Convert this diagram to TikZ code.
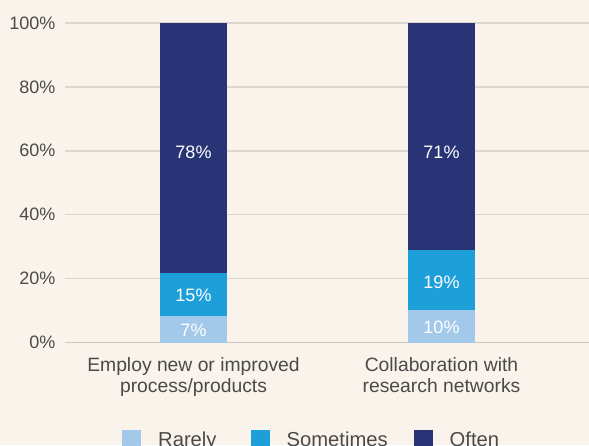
\documentclass[tikz,border=0pt]{standalone}
\usepackage{fontspec}
\setmainfont{Liberation Sans}
\definecolor{chartbg}{HTML}{FAF3EC}
\definecolor{gridgray}{HTML}{DDD7CF}
\definecolor{basegray}{HTML}{CDC6BE}
\definecolor{textgray}{HTML}{4A4A4A}
\definecolor{rarelyblue}{HTML}{A2C8EA}
\definecolor{sometimesblue}{HTML}{1D9FDA}
\definecolor{oftenblue}{HTML}{283476}
\tikzset{
	ticklabel/.style={anchor=east, inner sep=0pt, text=textgray, font=\fontsize{18}{20}\selectfont},
	barlabel/.style={anchor=base, inner sep=0pt, text=white, font=\fontsize{18}{20}\selectfont},
	catlabel/.style={anchor=base, inner sep=0pt, text=textgray, font=\fontsize{19.3}{21}\selectfont},
	legendlabel/.style={anchor=base west, inner sep=0pt, text=textgray, font=\fontsize{20.2}{22}\selectfont},
	gridline/.style={line width=1.5pt, color=gridgray}
}

\begin{document}
\begin{tikzpicture}[x=1pt, y=1pt]
		%%%%% START %%%%%
		
		\clip (0, 0) rectangle (589, 445);
		\fill[chartbg] (0, 0) rectangle (589, 445);
		
		\begin{scope}[yshift=102.5pt, y=3.195pt]
		
		\draw[gridline] (65, 100) -- (589, 100);
		\draw[gridline] (65, 80) -- (589, 80);
		\draw[gridline] (65, 60) -- (589, 60);
		\draw[gridline] (65, 40) -- (589, 40);
		\draw[gridline] (65, 20) -- (589, 20);
		\draw[gridline, color=basegray] (65, 0) -- (589, 0);
		
		\node[ticklabel] (tick100) at (55.5, 100) {100\%};
		\node[ticklabel] (tick80) at (55.5, 80) {80\%};
		\node[ticklabel] (tick60) at (55.5, 60) {60\%};
		\node[ticklabel] (tick40) at (55.5, 40) {40\%};
		\node[ticklabel] (tick20) at (55.5, 20) {20\%};
		\node[ticklabel] (tick0) at (55.5, 0) {0\%};
		
		\fill[rarelyblue] (160, 0) rectangle (227, 8.3);
		\fill[sometimesblue] (160, 8.3) rectangle (227, 21.8);
		\fill[oftenblue] (160, 21.8) rectangle (227, 100);
		
		\fill[rarelyblue] (408, 0) rectangle (475, 10.2);
		\fill[sometimesblue] (408, 10.2) rectangle (475, 29);
		\fill[oftenblue] (408, 29) rectangle (475, 100);
		
		\node[barlabel] (rarelyemploy) at (193.5, 2.0) {7\%};
		\node[barlabel] (sometimesemploy) at (193.5, 12.8) {15\%};
		\node[barlabel] (oftenemploy) at (193.5, 57.7) {78\%};
		
		\node[barlabel] (rarelycollab) at (441.5, 2.9) {10\%};
		\node[barlabel] (sometimescollab) at (441.5, 17.0) {19\%};
		\node[barlabel] (oftencollab) at (441.5, 57.7) {71\%};
		
		\end{scope}
		
		\node[catlabel] (employa) at (193.5, 73.3) {Employ new or improved};
		\node[catlabel] (employb) at (193.5, 52.3) {process/products};
		\node[catlabel] (collaba) at (441.5, 73.3) {Collaboration with};
		\node[catlabel] (collabb) at (441.5, 52.3) {research networks};
		
		\fill[rarelyblue] (122, -3) rectangle (141, 15);
		\node[legendlabel] (rarely) at (158, -1) {Rarely};
		\fill[sometimesblue] (251, -3) rectangle (270, 15);
		\node[legendlabel] (sometimes) at (286.5, -1) {Sometimes};
		\fill[oftenblue] (414, -3) rectangle (433, 15);
		\node[legendlabel] (often) at (449.5, -1) {Often};
		
		%%%%% END %%%%%
\end{tikzpicture}
\end{document}
